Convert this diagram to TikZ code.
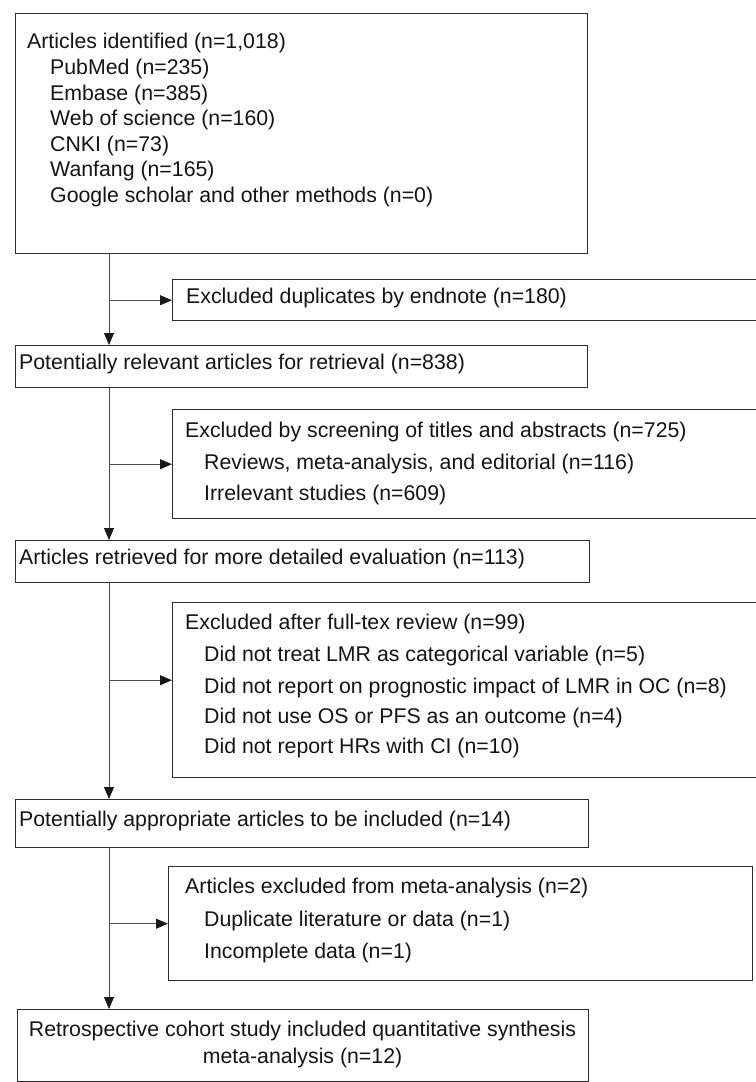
\documentclass[tikz,border=0pt]{standalone}
\usepackage{fontspec}
\setmainfont{Liberation Sans}
\usetikzlibrary{arrows.meta}
\begin{document}
\begin{tikzpicture}[x=1bp,y=-1bp,
  box/.style={draw=black!82, line width=1.4bp, rectangle, inner sep=0pt, anchor=north west},
  txt/.style={inner sep=0pt, anchor=west, text=black!92, font=\fontsize{21.3bp}{25bp}\selectfont, text height=0.72em, text depth=0pt},
  ctxt/.style={txt, anchor=center},
  conn/.style={draw=black!70, line width=0.9bp},
  arr/.style={conn, -{Triangle[length=12bp,width=10bp,color=black!90,fill=black!90]}}]
\useasboundingbox (0,0) rectangle (756,1082);
\coordinate (sp) at (109,0);
% boxes
\node[box, minimum width=572bp, minimum height=240.5bp] (b1) at (15,12.5) {};
\node[box, minimum width=588bp, minimum height=41bp] (b2) at (172,279) {};
\node[box, minimum width=572bp, minimum height=42bp] (b3) at (15,345) {};
\node[box, minimum width=588bp, minimum height=109bp] (b4) at (172,409) {};
\node[box, minimum width=574bp, minimum height=42bp] (b5) at (15,540) {};
\node[box, minimum width=588bp, minimum height=175bp] (b6) at (172,602) {};
\node[box, minimum width=573bp, minimum height=48bp] (b7) at (15,799) {};
\node[box, minimum width=584bp, minimum height=114bp] (b8) at (168,866) {};
\node[box, minimum width=571bp, minimum height=72bp] (b9) at (17,1009) {};
% texts
\node[txt] (t11) at (27,45) {Articles identified (n=1,018)};
\node[txt] (t12) at (50,71) {PubMed (n=235)};
\node[txt] (t13) at (50,97) {Embase (n=385)};
\node[txt] (t14) at (50,122) {Web of science (n=160)};
\node[txt] (t15) at (50,148) {CNKI (n=73)};
\node[txt] (t16) at (50,173) {Wanfang (n=165)};
\node[txt] (t17) at (50,199) {Google scholar and other methods (n=0)};
\node[txt] (t2) at (186,300) {Excluded duplicates by endnote (n=180)};
\node[txt] (t3) at (19,366) {Potentially relevant articles for retrieval (n=838)};
\node[txt] (t41) at (185,434) {Excluded by screening of titles and abstracts (n=725)};
\node[txt] (t42) at (204,466) {Reviews, meta-analysis, and editorial (n=116)};
\node[txt] (t43) at (204,497) {Irrelevant studies (n=609)};
\node[txt] (t5) at (19,561) {Articles retrieved for more detailed evaluation (n=113)};
\node[txt] (t61) at (185,626) {Excluded after full-tex review (n=99)};
\node[txt] (t62) at (204,658) {Did not treat LMR as categorical variable (n=5)};
\node[txt] (t63) at (204,690) {Did not report on prognostic impact of LMR in OC (n=8)};
\node[txt] (t64) at (204,720) {Did not use OS or PFS as an outcome (n=4)};
\node[txt] (t65) at (204,750) {Did not report HRs with CI (n=10)};
\node[txt] (t7) at (19,823) {Potentially appropriate articles to be included (n=14)};
\node[txt] (t81) at (185,890) {Articles excluded from meta-analysis (n=2)};
\node[txt] (t82) at (204,923) {Duplicate literature or data (n=1)};
\node[txt] (t83) at (204,955) {Incomplete data (n=1)};
\node[ctxt] (t91) at (302.5,1033) {Retrospective cohort study included quantitative synthesis};
\node[ctxt] (t92) at (302.5,1060) {meta-analysis (n=12)};
% connectors
\draw[arr] (b1.south -| sp) -- (b3.north -| sp);
\draw[arr] (b3.south -| sp) -- (b5.north -| sp);
\draw[arr] (b5.south -| sp) -- (b7.north -| sp);
\draw[arr] (b7.south -| sp) -- (b9.north -| sp);
\coordinate (j2) at (b2.west -| sp);
\coordinate (j4) at (b4.west -| sp);
\coordinate (j6) at ([yshift=10bp]b6.west -| sp);
\coordinate (j8) at (b8.west -| sp);
\draw[arr] (j2) -- (b2.west);
\draw[arr] (j4) -- (b4.west);
\draw[arr] (j6) -- (j6 -| b6.west);
\draw[arr] (j8) -- (b8.west);
\end{tikzpicture}
\end{document}
